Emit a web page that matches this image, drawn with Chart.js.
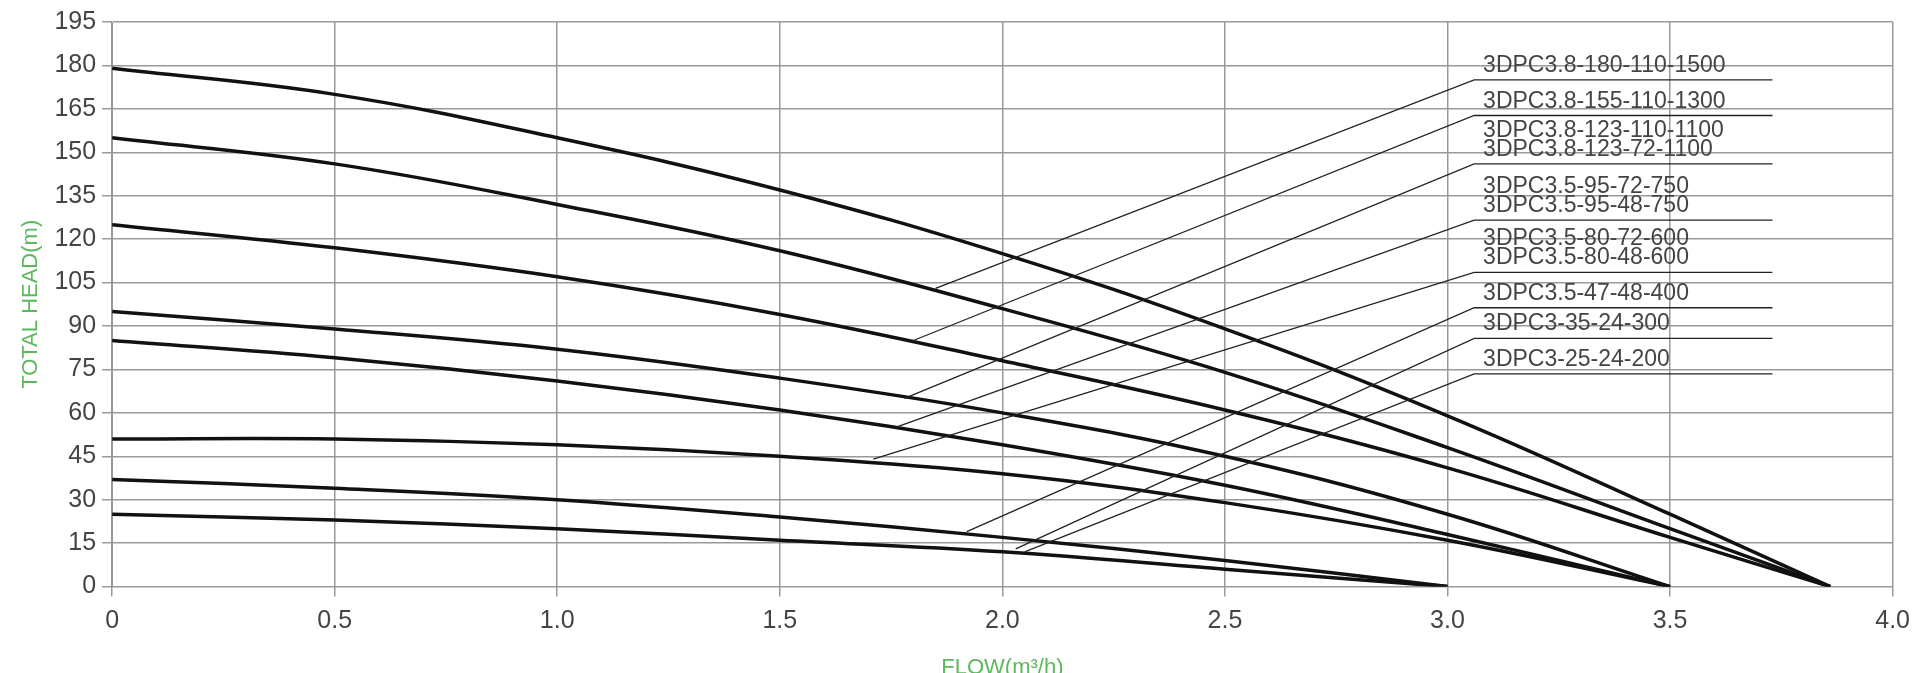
<!DOCTYPE html>
<html>
<head>
<meta charset="utf-8">
<script src="https://cdn.jsdelivr.net/npm/chart.js@4/dist/chart.umd.min.js"></script>
<style>
  html, body { margin: 0; padding: 0; background: #fff; overflow: hidden; }
  #wrap { width: 1920px; height: 673px; }
</style>
</head>
<body>
<div id="wrap"><canvas id="pump"></canvas></div>
<script>
// flow points (m3/h) and head values (m)
const flowFull = [0, 0.5, 1.0, 1.5, 2.0, 2.5, 3.0, 3.5, 3.86];
const flowMid = [0, 0.5, 1.0, 1.5, 2.0, 2.5, 3.0, 3.5];
const flowSmall = [0, 0.5, 1.0, 1.5, 2.0, 2.5, 3.0];

const head180 = [179, 170, 155, 137, 115, 89, 59, 25, 0];
const head155 = [155, 146, 132, 116, 96, 74, 48, 20, 0];
const head123 = [125, 117, 107, 94, 78, 61, 41, 17, 0];
const head95 = [95, 89, 82, 72, 60, 45, 25, 0];
const head80 = [85, 79, 71, 61, 49, 35, 18, 0];
const head47 = [51, 51, 49, 45, 39, 29, 16, 0];
const head35 = [37, 34, 30, 24, 17, 9, 0];
const head25 = [25, 23, 20, 16, 12, 6, 0];

// model labels, grouped by underline
const labelGroups = [
    ["3DPC3.8-180-110-1500"],
    ["3DPC3.8-155-110-1300"],
    ["3DPC3.8-123-110-1100", "3DPC3.8-123-72-1100"],
    ["3DPC3.5-95-72-750", "3DPC3.5-95-48-750"],
    ["3DPC3.5-80-72-600", "3DPC3.5-80-48-600"],
    ["3DPC3.5-47-48-400"],
    ["3DPC3-35-24-300"],
    ["3DPC3-25-24-200"]
];
const underlineHead = [175, 162.7, 146, 126.6, 108.5, 96.3, 85.7, 73.5];
const leaderFromFlow = [1.85, 1.80, 1.78, 1.76, 1.71, 1.92, 2.03, 2.05];
const leaderFromHead = [103, 85, 65, 55, 44, 19, 13, 12];

function toPoints(xs, ys) {
    return xs.map((x, i) => ({ x: x, y: ys[i] }));
}

function curve(xs, ys) {
    return {
        data: toPoints(xs, ys),
        borderColor: '#111',
        borderWidth: 3.5,
        pointRadius: 0,
        tension: 0.4,
        fill: false
    };
}

// leader lines and model labels
const labelPlugin = {
    id: 'modelLabels',
    afterDatasetsDraw(chart) {
        const { ctx, scales: { x, y } } = chart;
        ctx.save();
        labelGroups.forEach((group, i) => {
            const yLine = y.getPixelForValue(underlineHead[i]);
            ctx.strokeStyle = '#222';
            ctx.lineWidth = 1.3;
            ctx.beginPath();
            ctx.moveTo(x.getPixelForValue(leaderFromFlow[i]), y.getPixelForValue(leaderFromHead[i]));
            ctx.lineTo(x.getPixelForValue(3.06), yLine);
            ctx.lineTo(x.getPixelForValue(3.73), yLine);
            ctx.stroke();

            ctx.fillStyle = '#444';
            ctx.font = '23px "Liberation Sans", sans-serif';
            ctx.textBaseline = 'alphabetic';
            ctx.textAlign = 'left';
            const tx = x.getPixelForValue(3.08);
            if (group.length === 1) {
                ctx.fillText(group[0], tx, yLine - 8);
            } else {
                ctx.fillText(group[0], tx, yLine - 27);
                ctx.fillText(group[1], tx, yLine - 8);
            }
        });
        ctx.restore();
    }
};

new Chart(document.getElementById('pump'), {
    type: 'line',
    data: {
        datasets: [
            curve(flowFull, head180),
            curve(flowFull, head155),
            curve(flowFull, head123),
            curve(flowMid, head95),
            curve(flowMid, head80),
            curve(flowMid, head47),
            curve(flowSmall, head35),
            curve(flowSmall, head25)
        ]
    },
    options: {
        responsive: true,
        maintainAspectRatio: false,
        animation: false,
        layout: { padding: { top: 22, right: 2, left: 14, bottom: 0 } },
        plugins: { legend: { display: false }, tooltip: { enabled: false } },
        scales: {
            x: {
                type: 'linear',
                min: 0,
                max: 4,
                grid: { color: '#999', lineWidth: 1.5, tickLength: 10 },
                border: { color: '#999' },
                ticks: {
                    stepSize: 0.5,
                    color: '#444',
                    padding: 10,
                    font: { size: 25, family: '"Liberation Sans Narrow", sans-serif' },
                    callback: v => v === 0 ? '0' : v.toFixed(1)
                },
                title: {
                    display: true,
                    text: 'FLOW(m³/h)',
                    color: '#5cb85c',
                    font: { size: 22, family: '"Liberation Sans Narrow", sans-serif' },
                    padding: { top: 8, bottom: -8 }
                }
            },
            y: {
                min: 0,
                max: 195,
                grid: { color: '#999', lineWidth: 1.5, tickLength: 10 },
                border: { color: '#999' },
                ticks: {
                    stepSize: 15,
                    color: '#444',
                    padding: 6,
                    font: { size: 25, family: '"Liberation Sans Narrow", sans-serif' }
                },
                title: {
                    display: true,
                    text: 'TOTAL HEAD(m)',
                    color: '#5cb85c',
                    font: { size: 22, family: '"Liberation Sans Narrow", sans-serif' },
                    padding: 4
                }
            }
        }
    },
    plugins: [labelPlugin]
});
</script>
</body>
</html>
